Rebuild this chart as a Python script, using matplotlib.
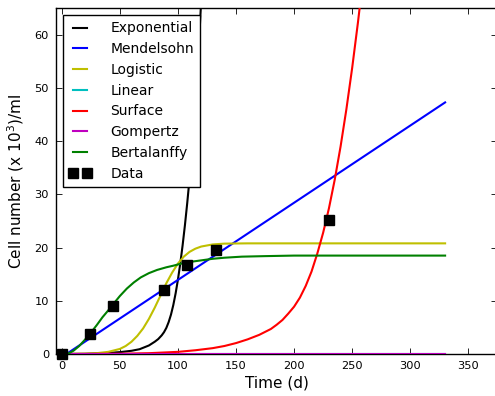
import matplotlib
matplotlib.use("Agg")
import matplotlib.pyplot as plt

# measured data
data_t = [0, 24, 44, 88, 108, 133, 230]
data_n = [0.0, 3.8, 9.1, 12.0, 16.7, 19.5, 25.1]

# model curves, values
exp_t = [0, 20, 40, 50, 60, 67, 75, 80, 83, 86, 88, 90, 92, 94, 96, 98, 100, 102, 104, 106, 108,
         110, 112, 114, 116, 118, 120]
exp_n = [0.0, 0.02, 0.2, 0.35, 0.6, 0.9, 1.6, 2.3, 2.8, 3.5, 4.1, 4.9, 6.0, 7.4, 9.2, 11.4, 14.0,
         17.0, 20.4, 24.2, 28.4, 33.0, 38.2, 44.0, 50.6, 58.0, 66.4]

mend_t = [4, 330]
mend_n = [0.0, 47.3]

logi_t = [0, 20, 30, 40, 50, 55, 60, 65, 70, 75, 80, 85, 90, 95, 100, 105, 110, 115, 120, 130, 140, 160, 330]
logi_n = [0.01, 0.06, 0.15, 0.4, 0.95, 1.5, 2.3, 3.4, 4.8, 6.6, 8.7, 11.0, 13.3, 15.3, 17.0, 18.3, 19.2,
          19.8, 20.2, 20.6, 20.75, 20.8, 20.8]

lin_t = [0, 330]
lin_n = [0.0, 0.0]

surf_t = [0, 50, 75, 100, 115, 130, 140, 150, 160, 170, 180, 185, 190, 195, 200, 205, 210, 215, 220,
          225, 230, 235, 240, 245, 250, 255, 258]
surf_n = [0.0, 0.05, 0.15, 0.4, 0.7, 1.1, 1.5, 2.05, 2.75, 3.6, 4.7, 5.5, 6.4, 7.6, 8.9, 10.6, 12.8,
          15.5, 18.9, 22.8, 27.4, 32.8, 39.0, 46.0, 53.8, 62.4, 68.0]

gomp_t = [0, 330]
gomp_n = [0.0, 0.0]

bert_t = [5, 10, 15, 20, 25, 30, 35, 40, 44, 50, 56, 62, 68, 75, 82, 90, 96, 103, 110, 120, 130, 140,
          155, 175, 200, 250, 330]
bert_n = [0.0, 0.6, 1.5, 2.7, 4.0, 5.4, 6.9, 8.2, 9.3, 10.9, 12.3, 13.45, 14.4, 15.2, 15.8, 16.3, 16.6,
          17.0, 17.3, 17.6, 17.9, 18.1, 18.3, 18.4, 18.5, 18.5, 18.5]

fig = plt.figure(figsize=(4.95, 3.96), dpi=100)
ax = fig.add_axes([0.1131, 0.1061, 0.8917, 0.873])

lw = 1.5
z = 3
ax.plot(exp_t, exp_n, color='k', lw=lw, label='Exponential', zorder=z)
ax.plot(mend_t, mend_n, color='b', lw=lw, label='Mendelsohn', zorder=z)
ax.plot(logi_t, logi_n, color=(0.75, 0.75, 0), lw=lw, label='Logistic', zorder=z)
ax.plot(lin_t, lin_n, color=(0, 0.75, 0.75), lw=lw, label='Linear', zorder=z)
ax.plot(surf_t, surf_n, color='r', lw=lw, label='Surface', zorder=z)
ax.plot(gomp_t, gomp_n, color=(0.75, 0, 0.75), lw=lw, label='Gompertz', zorder=z)
ax.plot(bert_t, bert_n, color=(0, 0.5, 0), lw=lw, label='Bertalanffy', zorder=z)
ax.plot(data_t, data_n, 's', color='k', markersize=7.5, label='Data', clip_on=False, zorder=5)

ax.set_xlim(-5, 375)
ax.set_ylim(0, 65)
ax.set_xticks([0, 50, 100, 150, 200, 250, 300, 350])
ax.set_yticks([0, 10, 20, 30, 40, 50, 60])
ax.tick_params(direction='in', top=True, right=True, labelsize=8.2, length=4, width=0.6, pad=5)
for s in ax.spines.values():
    s.set_linewidth(1.0)

ax.set_xlabel('Time (d)', fontsize=11, labelpad=3)
ax.set_ylabel('Cell number (x 10$^3$)/ml', fontsize=11, labelpad=6)

leg = ax.legend(loc='upper left', fontsize=10, numpoints=2, fancybox=False, framealpha=1,
                edgecolor='k', handlelength=1.6, handletextpad=1.35, labelspacing=0.485,
                borderpad=0.45, borderaxespad=0.5)
leg.get_frame().set_linewidth(1.0)
leg.set_zorder(6)

fig.savefig('out.png', dpi=100)
